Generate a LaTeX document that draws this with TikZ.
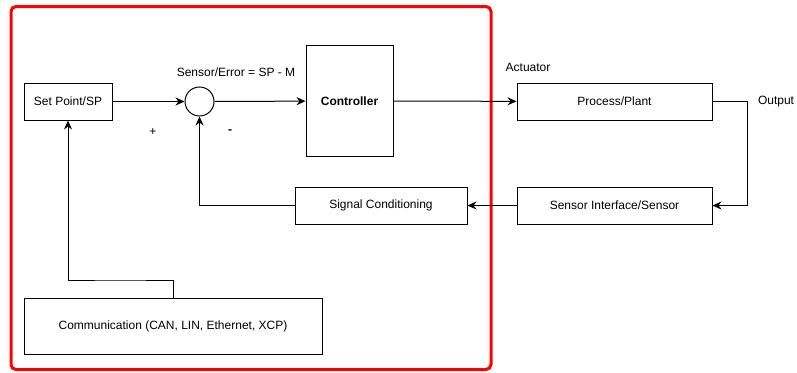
\documentclass[tikz,border=0pt]{standalone}
\usepackage{fontspec}
\setmainfont{Liberation Sans}
\usetikzlibrary{arrows.meta}

\begin{document}
\begin{tikzpicture}[x=1pt,y=-1pt,line width=1pt,
	font=\fontsize{12}{14}\selectfont,
	block/.style={draw,rectangle,minimum height=37pt,inner sep=0pt},
	arr/.style={-{Stealth[length=9pt,width=8pt,inset=3pt]}}]
\useasboundingbox (0,0) rectangle (797,372);

%ECU boundary
\draw [red,line width=3pt,rounded corners=5pt](11,6.5) rectangle (491,369.5);

%blocks
\node[block,minimum width=88pt] (sp) at (68,101.5){Set Point/SP};
\node[draw,circle,minimum size=29pt,inner sep=0pt] (sum) at (199.5,101.5){};
\node[block,minimum width=87pt,minimum height=111pt] (ctrl) at (349.5,101){\textbf{Controller}};
\node[block,minimum width=195pt] (plant) at (614.5,101.5){Process/Plant};
\node[block,minimum width=195pt] (sens) at (614.5,205.5){Sensor Interface/Sensor};
\node[block,minimum width=172pt] (cond) at (381,205.5){Signal Conditioning};
\node[block,minimum width=298pt,minimum height=56pt] (comm) at (173,326){Communication (CAN, LIN, Ethernet, XCP)};

%labels
\node (err) at (236,72){Sensor/Error = SP - M};
\node (act) at (528,67){Actuator};
\node (out) at (776,102){Output};
\node (plus) at (153,132){+};
\node (minus) at (230,132){\textbf{-}};

%bends
\coordinate (outR) at (747,153);
\coordinate (commB) at (120,280);

%forward path
\draw [arr](sp)--(sum);
\draw [arr](sum)--(ctrl);
\draw [arr](ctrl)--(plant);

%feedback path
\draw [arr](plant.east)-|(outR)|-(sens.east);
\draw [arr](sens)--(cond);
\draw [arr](cond.west)-|(sum.south);

%communication to set point
\draw [arr](comm.north)|-(commB)-|(sp.south);

\end{tikzpicture}
\end{document}
